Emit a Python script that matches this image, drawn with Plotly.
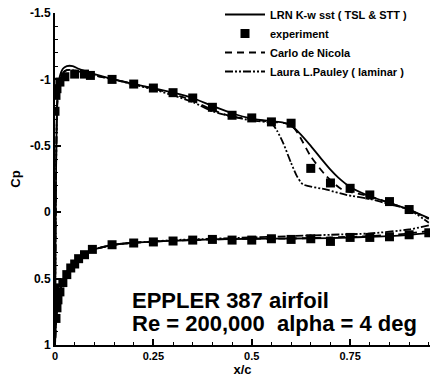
import plotly.graph_objects as go

# ---------------- data ----------------
# LRN K-w sst (TSL & STT)  -- solid
lrn_up_x = [0.0, 0.001, 0.003, 0.006, 0.012, 0.02, 0.03, 0.045, 0.06, 0.08, 0.1, 0.15, 0.2, 0.25, 0.3, 0.35,
            0.4, 0.45, 0.5, 0.55, 0.58, 0.6, 0.62, 0.65, 0.68, 0.7, 0.72, 0.75, 0.8, 0.85, 0.9, 0.95]
lrn_up_cp = [1.0, 0.4, -0.4, -0.85, -1.02, -1.08, -1.1, -1.1, -1.08, -1.06, -1.04, -1.0, -0.965, -0.935, -0.9,
             -0.86, -0.8, -0.745, -0.705, -0.685, -0.675, -0.65, -0.6, -0.5, -0.39, -0.32, -0.26, -0.19, -0.12,
             -0.07, -0.02, 0.045]
lrn_lo_x = [0.0, 0.002, 0.005, 0.01, 0.02, 0.03, 0.05, 0.075, 0.1, 0.15, 0.2, 0.25, 0.3, 0.4, 0.5, 0.6, 0.7,
            0.8, 0.9, 0.95]
lrn_lo_cp = [1.0, 0.86, 0.74, 0.63, 0.52, 0.45, 0.37, 0.315, 0.28, 0.245, 0.23, 0.222, 0.215, 0.205, 0.2,
             0.198, 0.195, 0.185, 0.17, 0.155]

# Carlo de Nicola -- dashed
nic_up_x = [0.0, 0.001, 0.003, 0.006, 0.012, 0.02, 0.03, 0.045, 0.06, 0.08, 0.1, 0.15, 0.2, 0.25, 0.3, 0.35,
            0.4, 0.45, 0.5, 0.55, 0.6, 0.62, 0.65, 0.69, 0.73, 0.8, 0.85, 0.9, 0.95]
nic_up_cp = [1.0, 0.4, -0.4, -0.83, -0.99, -1.05, -1.07, -1.07, -1.06, -1.05, -1.03, -1.0, -0.965, -0.93,
             -0.89, -0.84, -0.77, -0.72, -0.7, -0.68, -0.66, -0.58, -0.42, -0.27, -0.17, -0.12, -0.07, -0.02, 0.05]
nic_lo_x = [0.0, 0.002, 0.005, 0.01, 0.02, 0.03, 0.05, 0.075, 0.1, 0.15, 0.2, 0.25, 0.3, 0.4, 0.5, 0.6, 0.7,
            0.8, 0.9, 0.95]
nic_lo_cp = [1.0, 0.86, 0.74, 0.63, 0.52, 0.45, 0.37, 0.315, 0.28, 0.245, 0.23, 0.222, 0.215, 0.205, 0.2,
             0.198, 0.19, 0.18, 0.16, 0.14]

# Laura L. Pauley (laminar) -- dash-dot
pau_up_x = [0.0, 0.001, 0.003, 0.006, 0.012, 0.02, 0.03, 0.045, 0.06, 0.08, 0.1, 0.15, 0.2, 0.25, 0.3, 0.35,
            0.4, 0.45, 0.5, 0.55, 0.565, 0.58, 0.6, 0.615, 0.63, 0.69, 0.74, 0.8, 0.85, 0.9, 0.95]
pau_up_cp = [1.0, 0.4, -0.4, -0.83, -0.99, -1.05, -1.07, -1.07, -1.06, -1.05, -1.03, -1.0, -0.96, -0.925,
             -0.88, -0.83, -0.76, -0.72, -0.69, -0.67, -0.61, -0.52, -0.37, -0.27, -0.21, -0.17, -0.13, -0.1,
             -0.06, -0.02, 0.08]
pau_lo_x = [0.0, 0.002, 0.005, 0.01, 0.02, 0.03, 0.05, 0.075, 0.1, 0.15, 0.2, 0.25, 0.3, 0.4, 0.5, 0.6, 0.7,
            0.8, 0.9, 0.95]
pau_lo_cp = [1.0, 0.86, 0.74, 0.63, 0.52, 0.45, 0.37, 0.315, 0.28, 0.245, 0.23, 0.22, 0.21, 0.2, 0.19,
             0.18, 0.17, 0.16, 0.13, 0.1]

# experiment -- squares
exp_up_x = [0.0, 0.0025, 0.005, 0.0125, 0.025, 0.05, 0.075, 0.09, 0.145, 0.2, 0.25, 0.3, 0.35, 0.4, 0.45,
            0.5, 0.55, 0.6, 0.65, 0.7, 0.75, 0.8, 0.85, 0.9]
exp_up_cp = [-0.76, -0.88, -0.93, -0.98, -1.02, -1.04, -1.04, -1.03, -1.0, -0.965, -0.935, -0.9, -0.86,
             -0.79, -0.73, -0.71, -0.68, -0.67, -0.33, -0.22, -0.18, -0.13, -0.08, -0.02]
exp_lo_x = [0.0, 0.0025, 0.005, 0.0075, 0.0125, 0.02, 0.03, 0.04, 0.05, 0.06, 0.075, 0.095, 0.145, 0.2,
            0.25, 0.3, 0.35, 0.4, 0.45, 0.5, 0.55, 0.6, 0.65, 0.7, 0.75, 0.8, 0.85, 0.9, 0.95]
exp_lo_cp = [0.57, 0.8, 0.72, 0.66, 0.6, 0.53, 0.47, 0.42, 0.39, 0.35, 0.32, 0.28, 0.245, 0.232, 0.224,
             0.217, 0.21, 0.205, 0.21, 0.21, 0.2, 0.205, 0.2, 0.22, 0.19, 0.19, 0.185, 0.17, 0.155]

x_ticks = [0, 0.25, 0.5, 0.75]
x_tick_text = ["0", "0.25", "0.5", "0.75"]
y_ticks = [-1.5, -1, -0.5, 0, 0.5, 1]
y_tick_text = ["-1.5", "-1", "-0.5", "0", "0.5", "1"]

names = ["LRN K-w sst ( TSL &amp; STT )", "experiment", "Carlo de Nicola", "Laura L.Pauley ( laminar )"]
title_lines = ["EPPLER 387 airfoil", "Re = 200,000  alpha = 4 deg"]
title_cp = [0.665, 0.84]


def closed(lo_x, lo_cp, up_x, up_cp):
    return lo_x[::-1] + up_x[1:], lo_cp[::-1] + up_cp[1:]


def b(s):
    return "<b>" + s + "</b>"


FONT = "Liberation Sans, Arial, sans-serif"
fig = go.Figure()

x, y = closed(lrn_lo_x, lrn_lo_cp, lrn_up_x, lrn_up_cp)
fig.add_trace(go.Scatter(x=x, y=y, mode="lines", name=b(names[0]),
                         line=dict(color="black", width=1.8, shape="spline", smoothing=0.6)))
fig.add_trace(go.Scatter(x=exp_up_x + [None] + exp_lo_x, y=exp_up_cp + [None] + exp_lo_cp,
                         mode="markers", name=b(names[1]),
                         marker=dict(symbol="square", size=9, color="black")))
x, y = closed(nic_lo_x, nic_lo_cp, nic_up_x, nic_up_cp)
fig.add_trace(go.Scatter(x=x, y=y, mode="lines", name=b(names[2]),
                         line=dict(color="black", width=1.8, dash="7px,5px", shape="spline", smoothing=0.6)))
x, y = closed(pau_lo_x, pau_lo_cp, pau_up_x, pau_up_cp)
fig.add_trace(go.Scatter(x=x, y=y, mode="lines", name=b(names[3]),
                         line=dict(color="black", width=1.8, dash="8px,2px,2px,2px,2px,2px",
                                   shape="spline", smoothing=0.6)))

for txt, cp in zip(title_lines, title_cp):
    fig.add_annotation(x=0.19, y=cp, xref="x", yref="y", xanchor="left", yanchor="middle",
                       text=b(txt), showarrow=False, align="left",
                       font=dict(family=FONT, size=22, color="black"))

fig.update_layout(
    width=444, height=378,
    margin=dict(l=55, r=14, t=13, b=33, autoexpand=False),
    paper_bgcolor="white", plot_bgcolor="white",
    font=dict(family=FONT, color="black"),
    showlegend=True,
    legend=dict(x=0.44, y=1.0, xref="paper", yref="container", xanchor="left", yanchor="top",
                bgcolor="rgba(0,0,0,0)",
                font=dict(family=FONT, size=11, color="black"),
                itemwidth=40, tracegroupgap=0),
    xaxis=dict(range=[0, 0.953], tickvals=x_ticks, ticktext=[b(t) for t in x_tick_text], ticks="inside",
               ticklen=6, tickwidth=1.5, tickcolor="black", showline=True, linecolor="black", linewidth=2,
               showgrid=False, zeroline=False, tickfont=dict(size=11), automargin=False,
               minor=dict(dtick=0.05, ticks="inside", ticklen=3, tickwidth=1.2, tickcolor="black", showgrid=False),
               title=dict(text=b("x/c"), font=dict(size=13), standoff=0)),
    yaxis=dict(range=[1, -1.5], tickvals=y_ticks, ticktext=[b(t) for t in y_tick_text], ticks="inside",
               ticklen=6, tickwidth=1.5, tickcolor="black", showline=True, linecolor="black", linewidth=2,
               showgrid=False, zeroline=False, tickfont=dict(size=12), automargin=False,
               minor=dict(dtick=0.1, ticks="inside", ticklen=3, tickwidth=1.2, tickcolor="black", showgrid=False),
               title=dict(text=b("Cp"), font=dict(size=13), standoff=6)),
)

fig.write_html("out.html")
